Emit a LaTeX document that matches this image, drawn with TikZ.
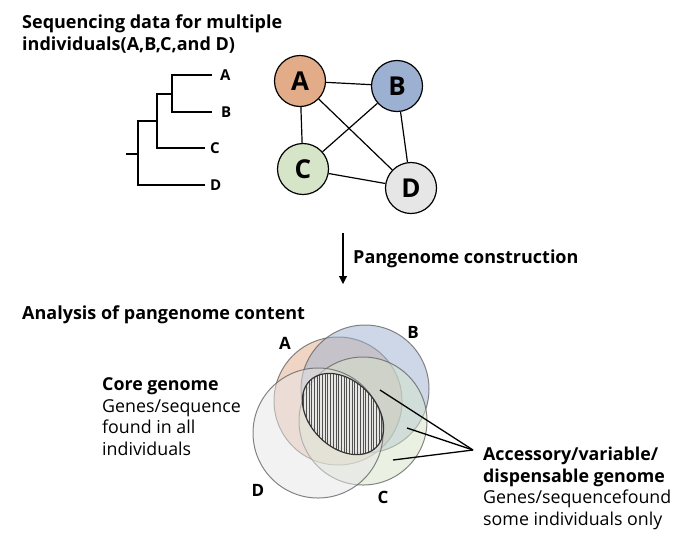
\documentclass[tikz,border=0pt]{standalone}
\usepackage{fontspec}
\setmainfont{Open Sans}
\usepackage{tikz}
\usetikzlibrary{positioning,arrows.meta}
\definecolor{indA}{RGB}{226,172,137}
\definecolor{indB}{RGB}{156,176,210}
\definecolor{indC}{RGB}{214,228,200}
\definecolor{indD}{RGB}{230,230,230}
\definecolor{hatchgray}{RGB}{80,80,80}

\begin{document}
\begin{tikzpicture}[
    x=1pt, y=-1pt,
    heading/.style={anchor=base west, inner sep=0pt, align=left,
        font=\fontsize{18}{22}\selectfont\bfseries},
    plain/.style={anchor=base west, inner sep=0pt, align=left,
        font=\fontsize{17.8}{21.5}\selectfont},
    leaf/.style={anchor=west, inner sep=0pt, font=\fontsize{15}{15}\selectfont\bfseries},
    tree/.style={line width=1.5pt, black},
    indiv/.style={circle, draw=black, line width=1.2pt,
        minimum size=51pt, inner sep=0pt,
        font=\fontsize{26}{26}\selectfont\bfseries},
    link/.style={line width=1.2pt, black},
    venn/.style={draw=black!60, draw opacity=0.8, line width=1pt, fill opacity=0.5},
    vlabel/.style={inner sep=0pt, font=\fontsize{17}{17}\selectfont\bfseries},
    pointer/.style={line width=1.3pt, black},
    arrow/.style={-{Triangle[length=8pt, width=8pt]}, line width=1.1pt, black}
]
\useasboundingbox (0,0) rectangle (700,547);

\node[heading] (title) at (22,50) {Sequencing data for multiple\\individuals(A,B,C,and D)};

\coordinate (root) at (126,154);
\coordinate (n1) at (138,154);
\coordinate (n2) at (157,121);
\coordinate (n3) at (172,94);
\coordinate (tA) at (212,75);
\coordinate (tB) at (212,112);
\coordinate (tC) at (205,148);
\coordinate (tD) at (205,185);
\node[leaf, right=8pt of tA] (lA) {A};
\node[leaf, right=9pt of tB] (lB) {B};
\node[leaf, right=5pt of tC] (lC) {C};
\node[leaf, right=5pt of tD] (lD) {D};
\draw[tree] (root) -- (n1);
\draw[tree] (n2) -| (n1) |- (tD);
\draw[tree] (n3) -| (n2) |- (tC);
\draw[tree] (tA) -| (n3) |- (tB);

\node[indiv, fill=indA] (A) at (300,81) {A};
\node[indiv, fill=indB] (B) at (397,86) {B};
\node[indiv, fill=indC] (C) at (303,169) {C};
\node[indiv, fill=indD] (D) at (411,188) {D};
\draw[link] (A) -- (B);
\draw[link] (A) -- (C);
\draw[link] (A) -- (D);
\draw[link] (B) -- (C);
\draw[link] (B) -- (D);
\draw[link] (C) -- (D);

\coordinate (arrTop) at (343,233);
\coordinate (arrEnd) at (343,284);
\draw[arrow] (arrTop) -- (arrEnd);
\node[heading] (build) at (353,263) {Pangenome construction};

\node[heading] (analysis) at (22,319) {Analysis of pangenome content};

\coordinate (cA) at (338,401);
\coordinate (cB) at (365,389);
\coordinate (cC) at (363,421);
\coordinate (cD) at (318,433);
\draw[venn, fill=indA] (cA) circle [radius=64];
\draw[venn, fill=indB] (cB) circle [radius=64];
\draw[venn, fill=indC] (cC) circle [radius=64];
\draw[venn, fill=indD] (cD) circle [radius=65];

\coordinate (core) at (343,414);
\begin{scope}
  \clip[rotate around={-45:(core)}] (core) ellipse [x radius=47, y radius=33];
  \fill[white, opacity=0.35] (core) circle [radius=60];
  \foreach \i in {0,...,36}
    \draw[hatchgray, line width=0.6pt] (298+\i*2.7,365) -- (298+\i*2.7,465);
\end{scope}
\draw[line width=1.2pt, black!80, rotate around={-45:(core)}] (core) ellipse [x radius=47, y radius=33];

\node[vlabel] (vA) at (285,343) {A};
\node[vlabel] (vB) at (413,332) {B};
\node[vlabel] (vC) at (383,497) {C};
\node[vlabel] (vD) at (258,490) {D};

\node[plain] (coretext) at (102,455) {\textbf{Core genome}\\Genes/sequence\\found in all\\individuals};

\coordinate (p1) at (380,390);
\coordinate (p2) at (407,428);
\coordinate (p3) at (393,460);
\coordinate (acc) at (473,450);
\draw[pointer] (p1) -- (acc);
\draw[pointer] (p2) -- (acc);
\draw[pointer] (p3) -- (acc);

\node[plain] (acctext) at (483,525) {\textbf{Accessory/variable/}\\\textbf{dispensable genome}\\Genes/sequencefound\\some individuals only};

\end{tikzpicture}
\end{document}
